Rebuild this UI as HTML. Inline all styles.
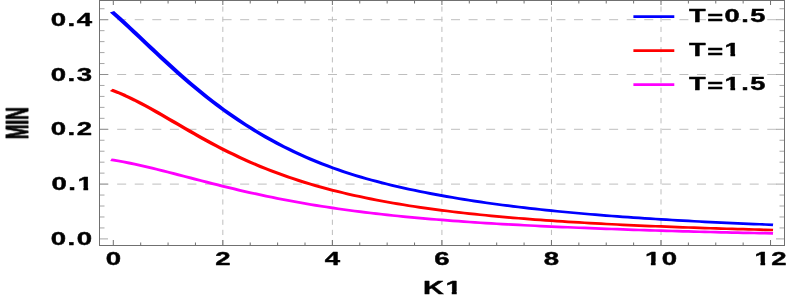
<!DOCTYPE html>
<html><head><meta charset="utf-8"><title>MIN vs K1</title>
<style>html,body{margin:0;padding:0;background:#fff;}body{width:793px;height:300px;overflow:hidden;font-family:"Liberation Sans",sans-serif;}svg{display:block;}</style>
</head><body>
<svg width="793" height="300" viewBox="0 0 793 300">
<rect width="793" height="300" fill="#fff"/>
<line x1="222.84" y1="-3.65" x2="222.84" y2="245.5" stroke="#bebebe" stroke-width="1" stroke-dasharray="5.2 4.95"/>
<line x1="332.38" y1="-3.65" x2="332.38" y2="245.5" stroke="#bebebe" stroke-width="1" stroke-dasharray="5.2 4.95"/>
<line x1="441.92" y1="-3.65" x2="441.92" y2="245.5" stroke="#bebebe" stroke-width="1" stroke-dasharray="5.2 4.95"/>
<line x1="551.46" y1="-3.65" x2="551.46" y2="245.5" stroke="#bebebe" stroke-width="1" stroke-dasharray="5.2 4.95"/>
<line x1="661.00" y1="-3.65" x2="661.00" y2="245.5" stroke="#bebebe" stroke-width="1" stroke-dasharray="5.2 4.95"/>
<line x1="99.5" y1="184.10" x2="784.5" y2="184.10" stroke="#bebebe" stroke-width="1" stroke-dasharray="9 8.57" stroke-dashoffset="-0.1"/>
<line x1="99.5" y1="129.30" x2="784.5" y2="129.30" stroke="#bebebe" stroke-width="1" stroke-dasharray="9 8.57" stroke-dashoffset="-0.1"/>
<line x1="99.5" y1="74.50" x2="784.5" y2="74.50" stroke="#bebebe" stroke-width="1" stroke-dasharray="9 8.57" stroke-dashoffset="-0.1"/>
<line x1="99.5" y1="19.70" x2="784.5" y2="19.70" stroke="#bebebe" stroke-width="1" stroke-dasharray="9 8.57" stroke-dashoffset="-0.1"/>
<polyline transform="scale(1.85,1)" points="61.243,12.88 64.204,17.76 67.164,22.75 70.125,27.83 73.085,32.97 76.046,38.14 79.006,43.33 81.967,48.50 84.928,53.65 87.888,58.76 90.849,63.80 93.809,68.78 96.770,73.68 99.730,78.49 102.691,83.20 105.651,87.81 108.612,92.31 111.572,96.70 114.533,100.98 117.494,105.14 120.454,109.19 123.415,113.12 126.375,116.94 129.336,120.64 132.296,124.24 135.257,127.72 138.217,131.09 141.178,134.35 144.138,137.51 147.099,140.56 150.059,143.51 153.020,146.35 155.981,149.10 158.941,151.75 161.902,154.31 164.862,156.77 167.823,159.14 170.783,161.42 173.744,163.61 176.704,165.71 179.665,167.74 182.625,169.68 185.586,171.55 188.546,173.34 191.507,175.07 194.468,176.72 197.428,178.32 200.389,179.85 203.349,181.33 206.310,182.75 209.270,184.13 212.231,185.45 215.191,186.73 218.152,187.97 221.112,189.17 224.073,190.33 227.034,191.46 229.994,192.55 232.955,193.62 235.915,194.65 238.876,195.65 241.836,196.62 244.797,197.56 247.757,198.48 250.718,199.37 253.678,200.24 256.639,201.08 259.599,201.90 262.560,202.70 265.521,203.47 268.481,204.22 271.442,204.95 274.402,205.66 277.363,206.35 280.323,207.02 283.284,207.68 286.244,208.31 289.205,208.92 292.165,209.52 295.126,210.11 298.086,210.67 301.047,211.22 304.008,211.76 306.968,212.28 309.929,212.79 312.889,213.29 315.850,213.77 318.810,214.24 321.771,214.69 324.731,215.14 327.692,215.57 330.652,215.99 333.613,216.41 336.574,216.81 339.534,217.20 342.495,217.58 345.455,217.95 348.416,218.32 351.376,218.67 354.337,219.02 357.297,219.35 360.258,219.68 363.218,220.01 366.179,220.32 369.139,220.63 372.100,220.93 375.061,221.22 378.021,221.51 380.982,221.79 383.942,222.06 386.903,222.33 389.863,222.59 392.824,222.84 395.784,223.09 398.745,223.34 401.705,223.58 404.666,223.81 407.626,224.04 410.587,224.26 413.548,224.48 416.508,224.70" fill="none" stroke="#0000ff" stroke-width="2.7" stroke-linejoin="round" stroke-linecap="square"/>
<polyline transform="scale(1.85,1)" points="61.243,90.64 64.204,92.81 67.164,95.17 70.125,97.71 73.085,100.39 76.046,103.21 79.006,106.14 81.967,109.15 84.928,112.24 87.888,115.38 90.849,118.55 93.809,121.73 96.770,124.92 99.730,128.10 102.691,131.25 105.651,134.37 108.612,137.45 111.572,140.47 114.533,143.44 117.494,146.34 120.454,149.17 123.415,151.92 126.375,154.60 129.336,157.21 132.296,159.73 135.257,162.18 138.217,164.54 141.178,166.83 144.138,169.03 147.099,171.17 150.059,173.22 153.020,175.21 155.981,177.12 158.941,178.97 161.902,180.75 164.862,182.46 167.823,184.12 170.783,185.71 173.744,187.25 176.704,188.73 179.665,190.16 182.625,191.54 185.586,192.88 188.546,194.16 191.507,195.40 194.468,196.60 197.428,197.76 200.389,198.87 203.349,199.95 206.310,200.99 209.270,202.00 212.231,202.97 215.191,203.91 218.152,204.81 221.112,205.69 224.073,206.53 227.034,207.35 229.994,208.14 232.955,208.91 235.915,209.64 238.876,210.36 241.836,211.05 244.797,211.72 247.757,212.36 250.718,212.99 253.678,213.59 256.639,214.18 259.599,214.74 262.560,215.29 265.521,215.83 268.481,216.34 271.442,216.84 274.402,217.33 277.363,217.80 280.323,218.25 283.284,218.69 286.244,219.12 289.205,219.54 292.165,219.94 295.126,220.33 298.086,220.71 301.047,221.08 304.008,221.44 306.968,221.79 309.929,222.13 312.889,222.46 315.850,222.78 318.810,223.10 321.771,223.40 324.731,223.69 327.692,223.98 330.652,224.26 333.613,224.53 336.574,224.80 339.534,225.06 342.495,225.31 345.455,225.55 348.416,225.79 351.376,226.03 354.337,226.25 357.297,226.47 360.258,226.69 363.218,226.90 366.179,227.11 369.139,227.31 372.100,227.50 375.061,227.69 378.021,227.88 380.982,228.06 383.942,228.24 386.903,228.41 389.863,228.58 392.824,228.75 395.784,228.91 398.745,229.07 401.705,229.22 404.666,229.37 407.626,229.52 410.587,229.67 413.548,229.81 416.508,229.94" fill="none" stroke="#ff0000" stroke-width="2.7" stroke-linejoin="round" stroke-linecap="square"/>
<polyline transform="scale(1.85,1)" points="61.243,160.10 64.204,161.04 67.164,162.05 70.125,163.14 73.085,164.28 76.046,165.49 79.006,166.74 81.967,168.04 84.928,169.38 87.888,170.74 90.849,172.13 93.809,173.53 96.770,174.95 99.730,176.38 102.691,177.80 105.651,179.23 108.612,180.65 111.572,182.06 114.533,183.45 117.494,184.83 120.454,186.19 123.415,187.53 126.375,188.85 129.336,190.15 132.296,191.41 135.257,192.66 138.217,193.87 141.178,195.06 144.138,196.21 147.099,197.34 150.059,198.44 153.020,199.51 155.981,200.55 158.941,201.57 161.902,202.55 164.862,203.51 167.823,204.44 170.783,205.34 173.744,206.22 176.704,207.06 179.665,207.89 182.625,208.69 185.586,209.46 188.546,210.21 191.507,210.94 194.468,211.65 197.428,212.33 200.389,212.99 203.349,213.63 206.310,214.26 209.270,214.86 212.231,215.45 215.191,216.01 218.152,216.56 221.112,217.09 224.073,217.61 227.034,218.11 229.994,218.60 232.955,219.07 235.915,219.52 238.876,219.96 241.836,220.39 244.797,220.81 247.757,221.21 250.718,221.61 253.678,221.99 256.639,222.36 259.599,222.72 262.560,223.06 265.521,223.40 268.481,223.73 271.442,224.05 274.402,224.36 277.363,224.66 280.323,224.95 283.284,225.24 286.244,225.52 289.205,225.78 292.165,226.05 295.126,226.30 298.086,226.55 301.047,226.79 304.008,227.03 306.968,227.27 309.929,227.50 312.889,227.73 315.850,227.95 318.810,228.17 321.771,228.39 324.731,228.60 327.692,228.81 330.652,229.02 333.613,229.22 336.574,229.41 339.534,229.60 342.495,229.79 345.455,229.98 348.416,230.16 351.376,230.33 354.337,230.50 357.297,230.67 360.258,230.84 363.218,231.00 366.179,231.15 369.139,231.31 372.100,231.46 375.061,231.60 378.021,231.75 380.982,231.89 383.942,232.02 386.903,232.16 389.863,232.29 392.824,232.41 395.784,232.54 398.745,232.66 401.705,232.78 404.666,232.89 407.626,233.00 410.587,233.11 413.548,233.22 416.508,233.32" fill="none" stroke="#ff00ff" stroke-width="2.7" stroke-linejoin="round" stroke-linecap="square"/>
<rect x="99.5" y="0.5" width="685.0" height="245.0" fill="none" stroke="#707070" stroke-width="1"/>
<path d="M113.30 245.5v-5.5 M113.30 0.5v4.5 M140.69 245.5v-3 M140.69 0.5v3 M168.07 245.5v-3 M168.07 0.5v3 M195.45 245.5v-3 M195.45 0.5v3 M222.84 245.5v-5.5 M222.84 0.5v4.5 M250.23 245.5v-3 M250.23 0.5v3 M277.61 245.5v-3 M277.61 0.5v3 M305.00 245.5v-3 M305.00 0.5v3 M332.38 245.5v-5.5 M332.38 0.5v4.5 M359.76 245.5v-3 M359.76 0.5v3 M387.15 245.5v-3 M387.15 0.5v3 M414.54 245.5v-3 M414.54 0.5v3 M441.92 245.5v-5.5 M441.92 0.5v4.5 M469.31 245.5v-3 M469.31 0.5v3 M496.69 245.5v-3 M496.69 0.5v3 M524.08 245.5v-3 M524.08 0.5v3 M551.46 245.5v-5.5 M551.46 0.5v4.5 M578.85 245.5v-3 M578.85 0.5v3 M606.23 245.5v-3 M606.23 0.5v3 M633.62 245.5v-3 M633.62 0.5v3 M661.00 245.5v-5.5 M661.00 0.5v4.5 M688.38 245.5v-3 M688.38 0.5v3 M715.77 245.5v-3 M715.77 0.5v3 M743.15 245.5v-3 M743.15 0.5v3 M770.54 245.5v-5.5 M770.54 0.5v4.5" stroke="#707070" stroke-width="1" fill="none"/>
<path d="M99.5 238.90h8.5 M784.5 238.90h-8.5 M99.5 227.94h5 M784.5 227.94h-5 M99.5 216.98h5 M784.5 216.98h-5 M99.5 206.02h5 M784.5 206.02h-5 M99.5 195.06h5 M784.5 195.06h-5 M99.5 184.10h8.5 M784.5 184.10h-8.5 M99.5 173.14h5 M784.5 173.14h-5 M99.5 162.18h5 M784.5 162.18h-5 M99.5 151.22h5 M784.5 151.22h-5 M99.5 140.26h5 M784.5 140.26h-5 M99.5 129.30h8.5 M784.5 129.30h-8.5 M99.5 118.34h5 M784.5 118.34h-5 M99.5 107.38h5 M784.5 107.38h-5 M99.5 96.42h5 M784.5 96.42h-5 M99.5 85.46h5 M784.5 85.46h-5 M99.5 74.50h8.5 M784.5 74.50h-8.5 M99.5 63.54h5 M784.5 63.54h-5 M99.5 52.58h5 M784.5 52.58h-5 M99.5 41.62h5 M784.5 41.62h-5 M99.5 30.66h5 M784.5 30.66h-5 M99.5 19.70h8.5 M784.5 19.70h-8.5 M99.5 8.74h5 M784.5 8.74h-5" stroke="#707070" stroke-width="0.62" fill="none"/>
<g font-family="&quot;Liberation Sans&quot;, sans-serif" font-weight="bold" fill="#000" stroke="#000" stroke-width="0.4" stroke-linejoin="round" style="opacity:0.999">
<g transform="translate(50.65,244.90) scale(1.507,1)"><text font-size="18.3" letter-spacing="1.0">0.0</text></g>
<g transform="translate(51.45,190.10) scale(1.507,1)"><text font-size="18.3" letter-spacing="1.0">0.1</text><path d="M17.51 -2.97H21.21v5.27H17.51zM24.36 -2.97H27.83v5.27H24.36z" fill="#fff" stroke="none"/></g>
<g transform="translate(50.65,135.30) scale(1.507,1)"><text font-size="18.3" letter-spacing="1.0">0.2</text></g>
<g transform="translate(50.65,80.50) scale(1.507,1)"><text font-size="18.3" letter-spacing="1.0">0.3</text></g>
<g transform="translate(50.65,25.70) scale(1.507,1)"><text font-size="18.3" letter-spacing="1.0">0.4</text></g>
<g transform="translate(105.63,264.50) scale(1.507,1)"><text font-size="18.3" letter-spacing="1.0">0</text></g>
<g transform="translate(215.17,264.50) scale(1.507,1)"><text font-size="18.3" letter-spacing="1.0">2</text></g>
<g transform="translate(324.71,264.50) scale(1.507,1)"><text font-size="18.3" letter-spacing="1.0">4</text></g>
<g transform="translate(434.25,264.50) scale(1.507,1)"><text font-size="18.3" letter-spacing="1.0">6</text></g>
<g transform="translate(543.79,264.50) scale(1.507,1)"><text font-size="18.3" letter-spacing="1.0">8</text></g>
<g transform="translate(644.91,264.50) scale(1.507,1)"><text font-size="18.3" letter-spacing="1.0">10</text><path d="M0.25 -2.97H3.95v5.27H0.25zM7.10 -2.97H10.57v5.27H7.10z" fill="#fff" stroke="none"/></g>
<g transform="translate(754.45,264.50) scale(1.507,1)"><text font-size="18.3" letter-spacing="1.0">12</text><path d="M0.25 -2.97H3.95v5.27H0.25zM7.10 -2.97H10.57v5.27H7.10z" fill="#fff" stroke="none"/></g>
<g transform="translate(423.03,293.90) scale(1.58,1)"><text font-size="18.3" letter-spacing="1.0">K1</text><path d="M14.47 -2.97H18.17v5.27H14.47zM21.32 -2.97H24.78v5.27H21.32z" fill="#fff" stroke="none"/></g>
<text transform="translate(27.9,139.24) scale(1.82,1) rotate(-90)" font-size="17.5" stroke-width="0.55">MIN</text>
<g transform="translate(689.00,22.25) scale(1.536,1)"><text font-size="17.7" letter-spacing="1.0">T<tspan dy="1.95">=</tspan><tspan dy="-1.95">0.5</tspan></text></g>
<g transform="translate(689.00,56.25) scale(1.536,1)"><text font-size="17.7" letter-spacing="1.0">T<tspan dy="1.95">=</tspan><tspan dy="-1.95">1</tspan></text><path d="M23.36 -2.91H26.96v5.21H23.36zM30.03 -2.91H33.40v5.21H30.03z" fill="#fff" stroke="none"/></g>
<g transform="translate(689.00,90.25) scale(1.536,1)"><text font-size="17.7" letter-spacing="1.0">T<tspan dy="1.95">=</tspan><tspan dy="-1.95">1.5</tspan></text><path d="M23.36 -2.91H26.96v5.21H23.36zM30.03 -2.91H33.40v5.21H30.03z" fill="#fff" stroke="none"/></g>
</g>
<line x1="633.4" y1="16.70" x2="674.3" y2="16.70" stroke="#0000ff" stroke-width="2.8"/>
<line x1="633.4" y1="50.70" x2="674.3" y2="50.70" stroke="#ff0000" stroke-width="2.8"/>
<line x1="633.4" y1="84.70" x2="674.3" y2="84.70" stroke="#ff00ff" stroke-width="2.8"/>
</svg>
</body></html>
